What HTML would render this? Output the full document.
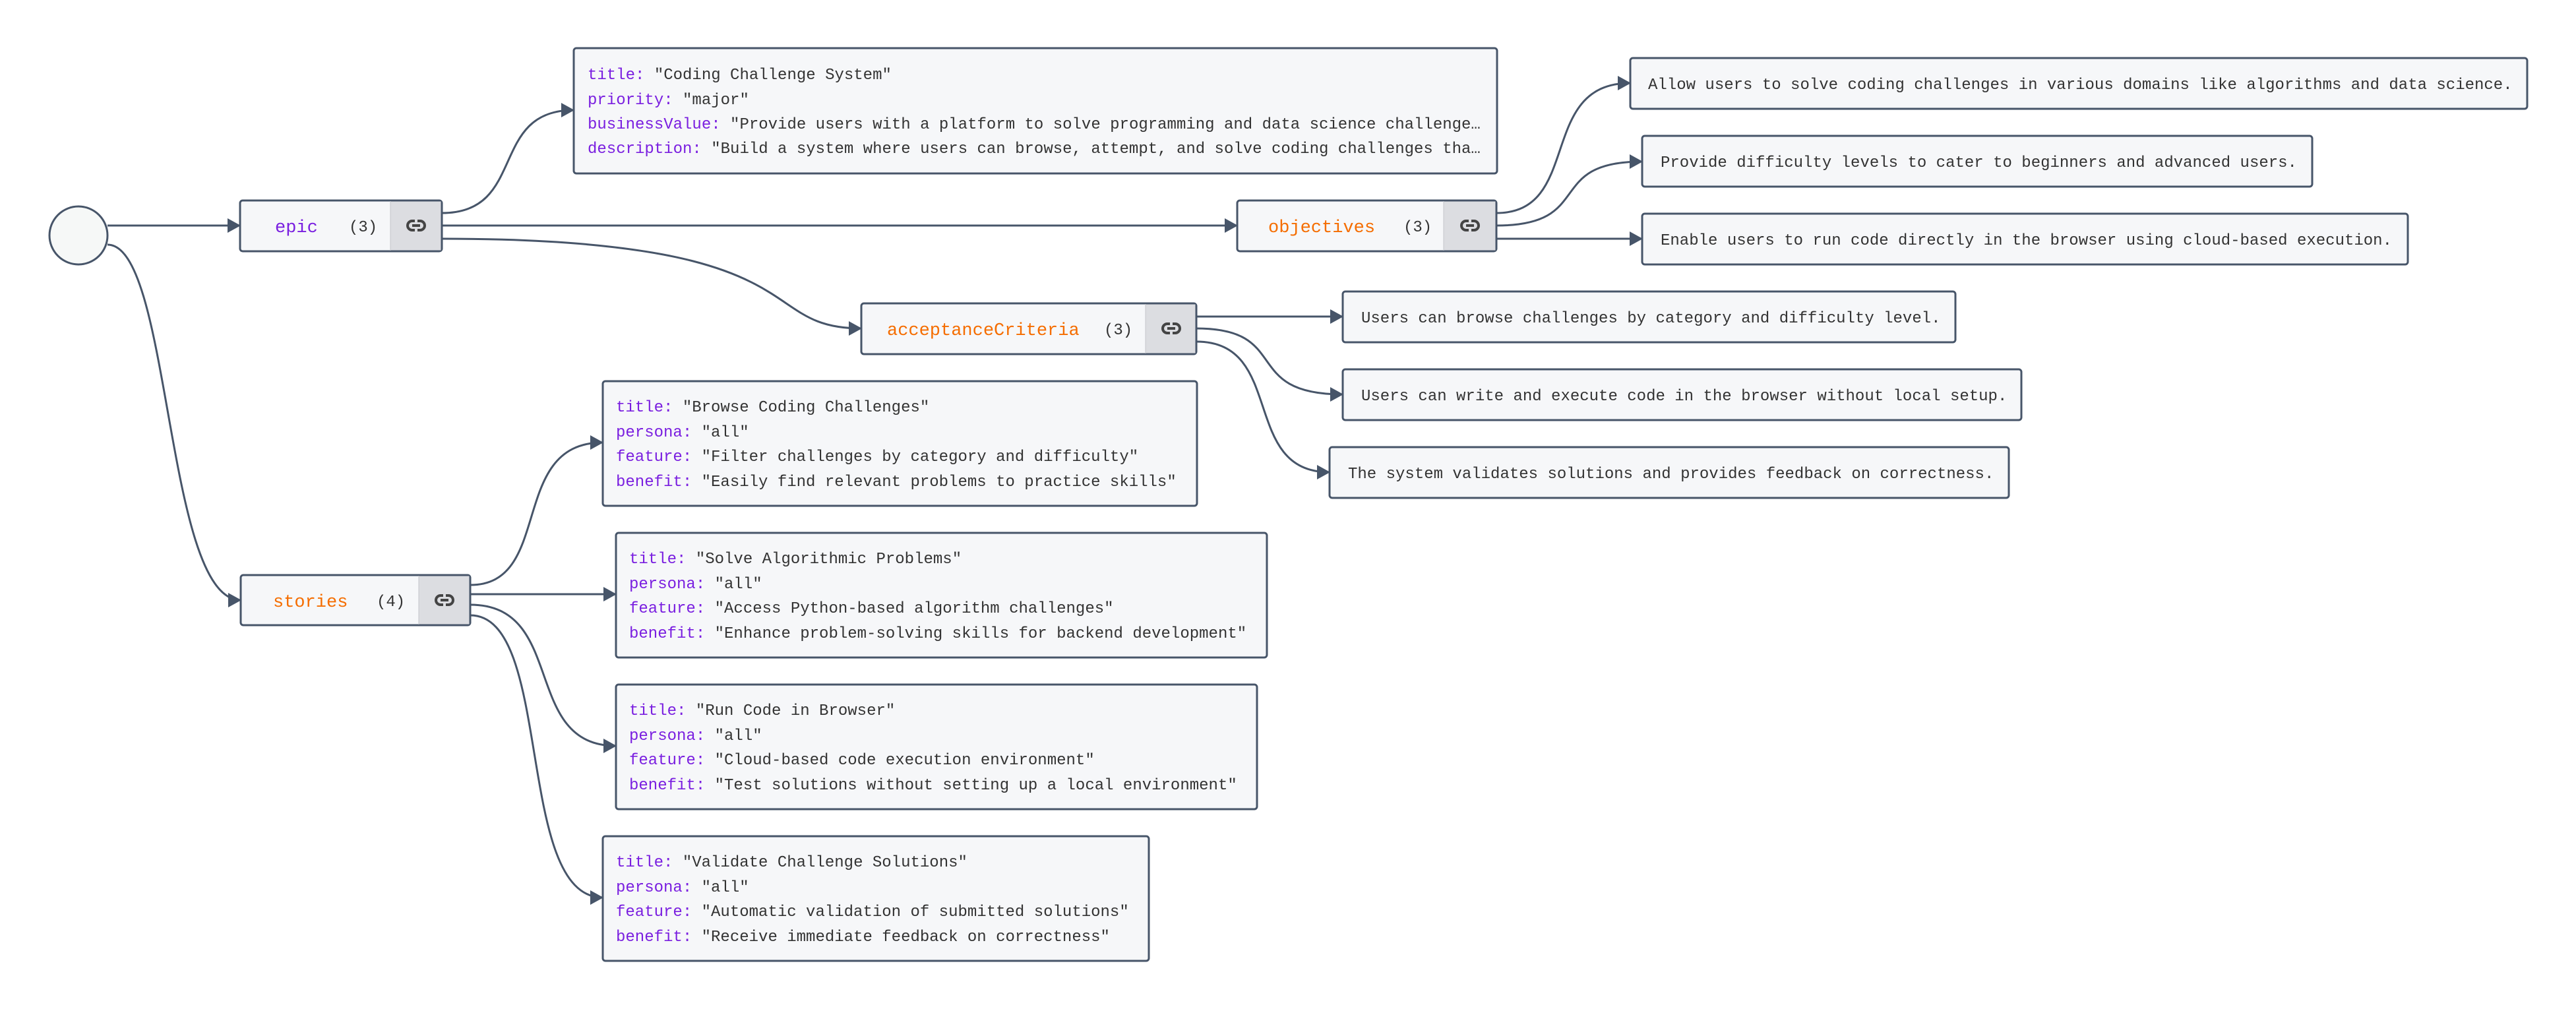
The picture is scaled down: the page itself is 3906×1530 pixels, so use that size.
<!DOCTYPE html>
<html><head><meta charset="utf-8"><style>
html,body{margin:0;padding:0;background:#fff;}
svg{display:block}
text{font-family:"Liberation Mono",monospace;}
.k{fill:#7a1fe0}.v{fill:#333}
.bx{fill:#f6f7f9;stroke:#475569;stroke-width:3}
.ln{fill:none;stroke:#475569;stroke-width:3}
</style></head><body>
<svg width="3906" height="1530" viewBox="0 0 3906 1530" xmlns="http://www.w3.org/2000/svg">
<defs>
<marker id="a" markerWidth="20" markerHeight="22" refX="19" refY="11" orient="auto" markerUnits="userSpaceOnUse">
<path d="M0,0 L20,11 L0,22 Z" fill="#475569"/></marker>
<g id="lk"><rect x="-13" y="-7" width="26" height="14" rx="7" fill="none" stroke="#444" stroke-width="4"/><line x1="-6" y1="0" x2="6" y2="0" stroke="#444" stroke-width="4"/><rect x="-2" y="-10" width="4" height="5" fill="#dcdde1"/><rect x="-2" y="5" width="4" height="5" fill="#dcdde1"/></g>
</defs>

<!-- edges -->
<path class="ln" d="M163,342 L364,342" marker-end="url(#a)"/>
<path class="ln" d="M163,371 C260,371 250,910 365,910" marker-end="url(#a)"/>
<path class="ln" d="M670,323 C800,323 740,167 870,167" marker-end="url(#a)"/>
<path class="ln" d="M670,342 L1876,342" marker-end="url(#a)"/>
<path class="ln" d="M670,362 C1250,362 1140,498 1306,498" marker-end="url(#a)"/>
<path class="ln" d="M2269,323 C2400,323 2330,126 2472,126" marker-end="url(#a)"/>
<path class="ln" d="M2269,342 C2420,342 2340,245 2490,245" marker-end="url(#a)"/>
<path class="ln" d="M2269,362 L2490,362" marker-end="url(#a)"/>
<path class="ln" d="M1814,480 L2036,480" marker-end="url(#a)"/>
<path class="ln" d="M1814,498 C1960,498 1880,598 2036,598" marker-end="url(#a)"/>
<path class="ln" d="M1814,518 C1950,518 1880,716 2016,716" marker-end="url(#a)"/>
<path class="ln" d="M713,887 C840,887 770,671 914,671" marker-end="url(#a)"/>
<path class="ln" d="M713,901 L934,901" marker-end="url(#a)"/>
<path class="ln" d="M713,917 C860,917 790,1131 934,1131" marker-end="url(#a)"/>
<path class="ln" d="M713,933 C840,933 780,1361 914,1361" marker-end="url(#a)"/>

<!-- root -->
<circle cx="119" cy="357" r="44" fill="#f6f8f7" stroke="#475569" stroke-width="3"/>

<!-- epic -->
<rect class="bx" x="364" y="304" width="306" height="77" rx="4"/>
<rect x="592" y="305.5" width="76.5" height="74" fill="#dcdde1"/>
<line x1="592" y1="305" x2="592" y2="380" stroke="#c4c6cc" stroke-width="1"/>
<text x="417" y="352" font-size="27" fill="#7a1fe0">epic</text>
<text x="529" y="351" font-size="24" fill="#333">(3)</text>
<use href="#lk" x="631" y="342"/>

<!-- objectives -->
<rect class="bx" x="1876" y="304" width="393" height="77" rx="4"/>
<rect x="2189" y="305.5" width="78.5" height="74" fill="#dcdde1"/>
<line x1="2189" y1="305" x2="2189" y2="380" stroke="#c4c6cc" stroke-width="1"/>
<text x="1923" y="352" font-size="27" fill="#f56d00">objectives</text>
<text x="2128" y="351" font-size="24" fill="#333">(3)</text>
<use href="#lk" x="2229" y="342"/>

<!-- acceptanceCriteria -->
<rect class="bx" x="1306" y="460" width="508" height="77" rx="4"/>
<rect x="1737" y="461.5" width="75.5" height="74" fill="#dcdde1"/>
<line x1="1737" y1="461" x2="1737" y2="536" stroke="#c4c6cc" stroke-width="1"/>
<text x="1345" y="508" font-size="27" fill="#f56d00">acceptanceCriteria</text>
<text x="1674" y="507" font-size="24" fill="#333">(3)</text>
<use href="#lk" x="1776" y="498"/>

<!-- stories -->
<rect class="bx" x="365" y="872" width="348" height="76" rx="4"/>
<rect x="635" y="873.5" width="76.5" height="73" fill="#dcdde1"/>
<line x1="635" y1="873" x2="635" y2="947" stroke="#c4c6cc" stroke-width="1"/>
<text x="414" y="920" font-size="27" fill="#f56d00">stories</text>
<text x="571" y="919" font-size="24" fill="#333">(4)</text>
<use href="#lk" x="674" y="910"/>

<!-- epic details -->
<rect class="bx" x="870" y="73" width="1400" height="190" rx="4"/>
<g font-size="24">
<text x="891" y="120"><tspan class="k">title:</tspan><tspan class="v"> "Coding Challenge System"</tspan></text>
<text x="891" y="158"><tspan class="k">priority:</tspan><tspan class="v"> "major"</tspan></text>
<text x="891" y="195"><tspan class="k">businessValue:</tspan><tspan class="v"> "Provide users with a platform to solve programming and data science challenge…</tspan></text>
<text x="891" y="232"><tspan class="k">description:</tspan><tspan class="v"> "Build a system where users can browse, attempt, and solve coding challenges tha…</tspan></text>
</g>

<!-- objectives children -->
<g font-size="24" class="v">
<rect class="bx" x="2472" y="88" width="1360" height="77" rx="4"/>
<text x="2499" y="135" fill="#333">Allow users to solve coding challenges in various domains like algorithms and data science.</text>
<rect class="bx" x="2490" y="206" width="1016" height="77" rx="4"/>
<text x="2518" y="253" fill="#333">Provide difficulty levels to cater to beginners and advanced users.</text>
<rect class="bx" x="2490" y="324" width="1161" height="77" rx="4"/>
<text x="2518" y="371" fill="#333">Enable users to run code directly in the browser using cloud-based execution.</text>

<rect class="bx" x="2036" y="442" width="929" height="77" rx="4"/>
<text x="2064" y="489" fill="#333">Users can browse challenges by category and difficulty level.</text>
<rect class="bx" x="2036" y="560" width="1029" height="77" rx="4"/>
<text x="2064" y="607" fill="#333">Users can write and execute code in the browser without local setup.</text>
<rect class="bx" x="2016" y="678" width="1030" height="77" rx="4"/>
<text x="2044" y="725" fill="#333">The system validates solutions and provides feedback on correctness.</text>
</g>

<!-- stories children -->
<g font-size="24">
<rect class="bx" x="914" y="578" width="901" height="189" rx="4"/>
<text x="934" y="624"><tspan class="k">title:</tspan><tspan class="v"> "Browse Coding Challenges"</tspan></text>
<text x="934" y="662"><tspan class="k">persona:</tspan><tspan class="v"> "all"</tspan></text>
<text x="934" y="699"><tspan class="k">feature:</tspan><tspan class="v"> "Filter challenges by category and difficulty"</tspan></text>
<text x="934" y="737"><tspan class="k">benefit:</tspan><tspan class="v"> "Easily find relevant problems to practice skills"</tspan></text>

<rect class="bx" x="934" y="808" width="987" height="189" rx="4"/>
<text x="954" y="854"><tspan class="k">title:</tspan><tspan class="v"> "Solve Algorithmic Problems"</tspan></text>
<text x="954" y="892"><tspan class="k">persona:</tspan><tspan class="v"> "all"</tspan></text>
<text x="954" y="929"><tspan class="k">feature:</tspan><tspan class="v"> "Access Python-based algorithm challenges"</tspan></text>
<text x="954" y="967"><tspan class="k">benefit:</tspan><tspan class="v"> "Enhance problem-solving skills for backend development"</tspan></text>

<rect class="bx" x="934" y="1038" width="972" height="189" rx="4"/>
<text x="954" y="1084"><tspan class="k">title:</tspan><tspan class="v"> "Run Code in Browser"</tspan></text>
<text x="954" y="1122"><tspan class="k">persona:</tspan><tspan class="v"> "all"</tspan></text>
<text x="954" y="1159"><tspan class="k">feature:</tspan><tspan class="v"> "Cloud-based code execution environment"</tspan></text>
<text x="954" y="1197"><tspan class="k">benefit:</tspan><tspan class="v"> "Test solutions without setting up a local environment"</tspan></text>

<rect class="bx" x="914" y="1268" width="828" height="189" rx="4"/>
<text x="934" y="1314"><tspan class="k">title:</tspan><tspan class="v"> "Validate Challenge Solutions"</tspan></text>
<text x="934" y="1352"><tspan class="k">persona:</tspan><tspan class="v"> "all"</tspan></text>
<text x="934" y="1389"><tspan class="k">feature:</tspan><tspan class="v"> "Automatic validation of submitted solutions"</tspan></text>
<text x="934" y="1427"><tspan class="k">benefit:</tspan><tspan class="v"> "Receive immediate feedback on correctness"</tspan></text>
</g>
</svg>
</body></html>
